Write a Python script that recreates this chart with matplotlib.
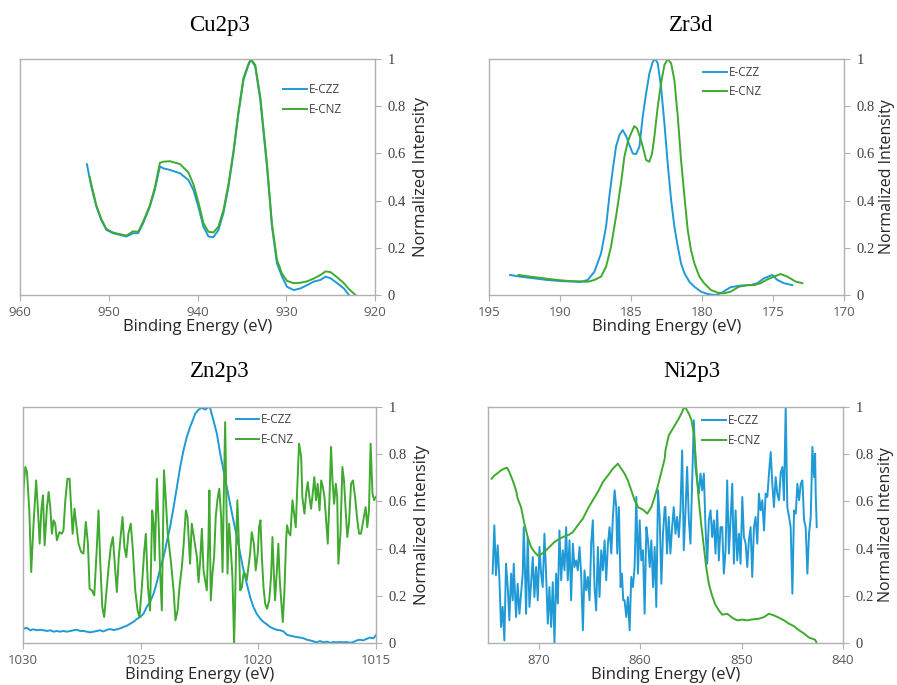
import matplotlib
matplotlib.use('Agg')
from matplotlib import pyplot as plt

plt.rcParams['font.family'] = ['Open Sans', 'DejaVu Sans']

BLUE = '#1f9ad6'
GREEN = '#3faa2f'
FRAME = '#b0b0b0'
SERIF = 'Liberation Serif'

series_names = ['E-CZZ', 'E-CNZ']

# Cu2p3
cu_ev_czz = [952.46, 951.97, 951.40, 950.84, 950.27, 949.52, 948.77, 948.01, 947.26, 946.69,
             946.13, 945.37, 944.81, 944.24, 943.86, 943.11, 941.98, 941.04, 940.47, 939.91,
             939.34, 938.77, 938.21, 937.64, 937.08, 936.51, 935.95, 935.38, 934.82, 934.25,
             933.99, 933.50, 932.93, 932.18, 931.61, 931.05, 930.48, 929.92, 929.16, 928.41,
             927.65, 926.90, 926.15, 925.58, 925.01, 924.26, 923.51, 922.94]
cu_czz = [0.554, 0.460, 0.375, 0.318, 0.276, 0.262, 0.255, 0.248, 0.262, 0.262,
          0.304, 0.375, 0.446, 0.545, 0.537, 0.530, 0.516, 0.488, 0.446, 0.375,
          0.290, 0.248, 0.245, 0.276, 0.347, 0.460, 0.601, 0.771, 0.912, 0.976,
          0.997, 0.969, 0.827, 0.545, 0.290, 0.134, 0.078, 0.035, 0.021, 0.028,
          0.042, 0.057, 0.064, 0.078, 0.071, 0.050, 0.028, 0.0]
cu_ev_cnz = [952.15, 951.97, 951.40, 950.84, 950.27, 949.52, 948.77, 948.01, 947.26, 946.69,
             946.13, 945.37, 944.81, 944.24, 943.86, 943.11, 941.98, 941.04, 940.47, 939.91,
             939.34, 938.77, 938.21, 937.64, 937.08, 936.51, 935.95, 935.38, 934.82, 934.25,
             933.99, 933.50, 932.93, 932.18, 931.61, 931.05, 930.48, 929.92, 929.16, 928.41,
             927.65, 926.90, 926.15, 925.58, 925.01, 924.26, 923.51, 922.94, 922.20]
cu_cnz = [0.500, 0.470, 0.380, 0.322, 0.280, 0.265, 0.258, 0.252, 0.270, 0.268,
          0.310, 0.380, 0.455, 0.560, 0.565, 0.567, 0.555, 0.520, 0.470, 0.395,
          0.305, 0.268, 0.265, 0.290, 0.360, 0.470, 0.610, 0.780, 0.920, 0.980,
          1.000, 0.975, 0.840, 0.560, 0.300, 0.150, 0.090, 0.060, 0.050, 0.052,
          0.058, 0.070, 0.085, 0.100, 0.097, 0.075, 0.050, 0.025, 0.0]

# Zr3d
zr_ev_czz = [193.52, 192.81, 191.87, 190.93, 189.99, 189.05, 188.58, 188.05, 187.58, 187.11,
             186.76, 186.53, 186.29, 186.06, 185.82, 185.59, 185.35, 185.12, 184.88, 184.65,
             184.41, 184.18, 183.94, 183.71, 183.47, 183.29, 183.12, 182.89, 182.65, 182.42,
             182.18, 181.95, 181.71, 181.48, 181.24, 180.89, 180.54, 180.07, 179.60, 179.02,
             178.70, 178.00, 177.29, 176.59, 176.11, 175.64, 175.06, 174.70, 174.23, 173.65]
zr_czz = [0.085, 0.078, 0.071, 0.064, 0.059, 0.057, 0.055, 0.064, 0.099, 0.177,
          0.290, 0.417, 0.530, 0.629, 0.678, 0.699, 0.674, 0.636, 0.600, 0.597,
          0.629, 0.756, 0.855, 0.939, 0.989, 1.000, 0.982, 0.883, 0.727, 0.558,
          0.403, 0.290, 0.205, 0.134, 0.092, 0.056, 0.035, 0.014, 0.004, 0.0,
          0.007, 0.033, 0.040, 0.042, 0.050, 0.071, 0.085, 0.064, 0.050, 0.042]
zr_ev_cnz = [192.93, 192.11, 191.17, 190.23, 189.29, 188.58, 188.05, 187.58, 187.11, 186.76,
             186.41, 186.06, 185.71, 185.47, 185.23, 185.00, 184.77, 184.58, 184.34, 184.11,
             183.94, 183.71, 183.52, 183.36, 183.12, 182.89, 182.65, 182.42, 182.18, 181.95,
             181.71, 181.48, 181.24, 181.01, 180.78, 180.54, 180.19, 179.84, 179.37, 178.90,
             178.47, 178.00, 177.41, 176.82, 176.35, 175.88, 175.41, 174.94, 174.47, 174.00,
             173.41, 172.94]
zr_cnz = [0.085, 0.078, 0.071, 0.064, 0.059, 0.058, 0.056, 0.064, 0.078, 0.120,
          0.205, 0.332, 0.473, 0.586, 0.650, 0.685, 0.716, 0.706, 0.664, 0.614,
          0.572, 0.565, 0.600, 0.671, 0.798, 0.897, 0.975, 1.000, 0.982, 0.911,
          0.756, 0.572, 0.417, 0.275, 0.191, 0.134, 0.078, 0.049, 0.021, 0.010,
          0.007, 0.014, 0.035, 0.042, 0.042, 0.050, 0.066, 0.078, 0.089, 0.078,
          0.057, 0.050]

# Zn2p3
zn_ev_czz = [1029.97, 1029.83, 1029.69, 1029.55, 1029.41, 1029.27, 1029.12, 1028.98, 1028.84, 1028.70,
             1028.56, 1028.42, 1028.28, 1028.13, 1027.99, 1027.85, 1027.71, 1027.57, 1027.43, 1027.28,
             1027.14, 1027.00, 1026.86, 1026.72, 1026.58, 1026.43, 1026.29, 1026.15, 1026.01, 1025.87,
             1025.73, 1025.59, 1025.44, 1025.30, 1025.16, 1025.02, 1024.88, 1024.74, 1024.60, 1024.45,
             1024.31, 1024.17, 1024.03, 1023.89, 1023.75, 1023.60, 1023.46, 1023.32, 1023.18, 1023.04,
             1022.90, 1022.76, 1022.68, 1022.54, 1022.40, 1022.26, 1022.12, 1022.05, 1021.91, 1021.76,
             1021.62, 1021.48, 1021.34, 1021.20, 1021.06, 1020.91, 1020.77, 1020.63, 1020.49, 1020.35,
             1020.21, 1020.07, 1019.92, 1019.78, 1019.64, 1019.50, 1019.36, 1019.22, 1019.07, 1018.93,
             1018.79, 1018.65, 1018.51, 1018.37, 1018.23, 1018.08, 1017.94, 1017.80, 1017.66, 1017.52,
             1017.38, 1017.23, 1017.09, 1016.95, 1016.81, 1016.67, 1016.53, 1016.39, 1016.24, 1016.10,
             1015.96, 1015.82, 1015.68, 1015.54, 1015.39, 1015.25, 1015.11, 1015.00]
zn_czz = [0.061, 0.064, 0.054, 0.058, 0.054, 0.056, 0.054, 0.051, 0.054, 0.048,
          0.051, 0.048, 0.051, 0.048, 0.051, 0.054, 0.056, 0.051, 0.051, 0.048,
          0.045, 0.048, 0.051, 0.054, 0.049, 0.056, 0.059, 0.055, 0.058, 0.062,
          0.068, 0.073, 0.082, 0.090, 0.102, 0.110, 0.124, 0.153, 0.174, 0.209,
          0.258, 0.315, 0.364, 0.428, 0.491, 0.576, 0.661, 0.746, 0.816, 0.873,
          0.915, 0.951, 0.972, 0.989, 0.997, 0.989, 1.000, 0.997, 0.944, 0.887,
          0.802, 0.732, 0.661, 0.590, 0.520, 0.449, 0.379, 0.308, 0.251, 0.195,
          0.153, 0.124, 0.103, 0.089, 0.079, 0.068, 0.061, 0.056, 0.054, 0.049,
          0.035, 0.031, 0.028, 0.025, 0.023, 0.020, 0.014, 0.011, 0.007, 0.003,
          0.008, 0.003, 0.006, 0.001, 0.004, 0.003, 0.004, 0.003, 0.004, 0.001,
          0.004, 0.011, 0.014, 0.011, 0.018, 0.023, 0.020, 0.034]
zn_ev_cnz = [1030.00, 1029.97, 1029.90, 1029.83, 1029.73, 1029.65, 1029.55, 1029.44, 1029.37, 1029.29,
             1029.22, 1029.15, 1029.08, 1028.98, 1028.91, 1028.84, 1028.77, 1028.70, 1028.63, 1028.56,
             1028.45, 1028.35, 1028.28, 1028.20, 1028.11, 1028.02, 1027.96, 1027.89, 1027.81, 1027.74,
             1027.64, 1027.53, 1027.43, 1027.33, 1027.24, 1027.17, 1027.07, 1026.97, 1026.86, 1026.79,
             1026.72, 1026.63, 1026.55, 1026.46, 1026.36, 1026.27, 1026.18, 1026.08, 1026.01, 1025.93,
             1025.84, 1025.77, 1025.69, 1025.61, 1025.52, 1025.42, 1025.33, 1025.23, 1025.13, 1025.05,
             1024.95, 1024.85, 1024.78, 1024.69, 1024.60, 1024.51, 1024.45, 1024.40, 1024.31, 1024.23,
             1024.17, 1024.10, 1024.01, 1023.93, 1023.85, 1023.72, 1023.60, 1023.52, 1023.43, 1023.35,
             1023.25, 1023.18, 1023.08, 1023.01, 1022.90, 1022.83, 1022.76, 1022.61, 1022.54, 1022.47,
             1022.40, 1022.33, 1022.26, 1022.19, 1022.12, 1022.08, 1022.02, 1021.95, 1021.88, 1021.81,
             1021.74, 1021.66, 1021.58, 1021.52, 1021.47, 1021.41, 1021.37, 1021.31, 1021.24, 1021.17,
             1021.10, 1021.03, 1020.99, 1020.93, 1020.89, 1020.83, 1020.77, 1020.70, 1020.63, 1020.56,
             1020.49, 1020.42, 1020.35, 1020.28, 1020.19, 1020.11, 1020.02, 1019.97, 1019.91, 1019.85,
             1019.78, 1019.71, 1019.63, 1019.54, 1019.46, 1019.40, 1019.34, 1019.29, 1019.22, 1019.15,
             1019.09, 1019.03, 1018.96, 1018.89, 1018.82, 1018.78, 1018.72, 1018.64, 1018.55, 1018.48,
             1018.41, 1018.34, 1018.27, 1018.18, 1018.13, 1018.04, 1017.97, 1017.90, 1017.83, 1017.76,
             1017.69, 1017.62, 1017.55, 1017.48, 1017.40, 1017.33, 1017.26, 1017.19, 1017.14, 1017.05,
             1016.98, 1016.91, 1016.85, 1016.78, 1016.71, 1016.65, 1016.60, 1016.51, 1016.43, 1016.36,
             1016.29, 1016.22, 1016.15, 1016.06, 1015.98, 1015.89, 1015.81, 1015.72, 1015.64, 1015.54,
             1015.44, 1015.37, 1015.30, 1015.23, 1015.15, 1015.08, 1015.01]
zn_cnz = [0.550, 0.661, 0.746, 0.725, 0.562, 0.301, 0.506, 0.689, 0.576, 0.421,
          0.562, 0.626, 0.414, 0.576, 0.640, 0.576, 0.463, 0.520, 0.506, 0.435,
          0.470, 0.463, 0.477, 0.605, 0.696, 0.696, 0.590, 0.463, 0.569, 0.506,
          0.421, 0.386, 0.379, 0.513, 0.421, 0.230, 0.223, 0.202, 0.407, 0.562,
          0.350, 0.153, 0.110, 0.209, 0.322, 0.407, 0.449, 0.308, 0.216, 0.364,
          0.463, 0.534, 0.407, 0.364, 0.463, 0.506, 0.393, 0.223, 0.138, 0.110,
          0.237, 0.386, 0.463, 0.237, 0.138, 0.562, 0.506, 0.350, 0.696, 0.491,
          0.294, 0.138, 0.732, 0.605, 0.463, 0.350, 0.223, 0.096, 0.138, 0.237,
          0.322, 0.407, 0.562, 0.534, 0.336, 0.506, 0.463, 0.364, 0.258, 0.350,
          0.484, 0.308, 0.266, 0.223, 0.435, 0.647, 0.181, 0.294, 0.364, 0.534,
          0.605, 0.654, 0.534, 0.301, 0.605, 0.936, 0.689, 0.294, 0.506, 0.400,
          0.280, 0.000, 0.153, 0.477, 0.605, 0.435, 0.223, 0.237, 0.294, 0.294,
          0.266, 0.322, 0.379, 0.470, 0.421, 0.308, 0.386, 0.491, 0.520, 0.364,
          0.237, 0.167, 0.145, 0.181, 0.280, 0.449, 0.294, 0.181, 0.294, 0.421,
          0.266, 0.181, 0.089, 0.223, 0.435, 0.499, 0.470, 0.456, 0.605, 0.548,
          0.491, 0.675, 0.845, 0.788, 0.619, 0.548, 0.633, 0.682, 0.619, 0.569,
          0.633, 0.703, 0.605, 0.675, 0.562, 0.689, 0.661, 0.619, 0.548, 0.421,
          0.605, 0.831, 0.689, 0.590, 0.675, 0.619, 0.336, 0.463, 0.746, 0.689,
          0.562, 0.449, 0.506, 0.675, 0.689, 0.619, 0.534, 0.463, 0.463, 0.520,
          0.576, 0.491, 0.562, 0.845, 0.633, 0.605, 0.619]

# Ni2p3
ni_ev_czz = [874.55, 874.38, 874.22, 874.05, 873.89, 873.72, 873.56, 873.39, 873.23, 873.06,
             872.90, 872.73, 872.57, 872.47, 872.34, 872.24, 872.08, 871.91, 871.75, 871.58,
             871.48, 871.35, 871.25, 871.09, 870.92, 870.76, 870.59, 870.43, 870.26, 870.10,
             869.93, 869.77, 869.61, 869.44, 869.28, 869.11, 868.95, 868.78, 868.62, 868.45,
             868.29, 868.12, 867.96, 867.79, 867.63, 867.46, 867.30, 867.14, 866.97, 866.81,
             866.64, 866.48, 866.31, 866.15, 865.98, 865.82, 865.65, 865.49, 865.32, 865.16,
             864.99, 864.83, 864.67, 864.50, 864.34, 864.17, 864.01, 863.84, 863.68, 863.51,
             863.35, 863.18, 863.02, 862.85, 862.69, 862.52, 862.36, 862.26, 862.10, 861.93,
             861.80, 861.67, 861.54, 861.37, 861.21, 861.04, 860.88, 860.71, 860.55, 860.38,
             860.22, 860.05, 859.89, 859.72, 859.56, 859.39, 859.23, 859.06, 858.90, 858.73,
             858.57, 858.41, 858.24, 858.08, 857.91, 857.75, 857.58, 857.51, 857.35, 857.18,
             857.02, 856.85, 856.69, 856.52, 856.36, 856.19, 856.03, 855.86, 855.70, 855.53,
             855.37, 855.20, 855.04, 854.88, 854.71, 854.55, 854.38, 854.22, 854.05, 853.89,
             853.72, 853.56, 853.39, 853.23, 853.06, 852.90, 852.73, 852.57, 852.41, 852.24,
             852.08, 851.91, 851.75, 851.58, 851.42, 851.25, 851.09, 850.92, 850.76, 850.59,
             850.43, 850.26, 850.10, 849.93, 849.77, 849.60, 849.44, 849.28, 849.11, 848.95,
             848.78, 848.62, 848.45, 848.29, 848.12, 847.96, 847.79, 847.63, 847.46, 847.30,
             847.13, 846.97, 846.81, 846.64, 846.48, 846.31, 846.15, 845.98, 845.82, 845.65,
             845.49, 845.32, 845.16, 844.99, 844.83, 844.66, 844.50, 844.33, 844.17, 844.00,
             843.84, 843.68, 843.51, 843.35, 843.18, 843.02, 842.85, 842.75, 842.69, 842.59]
ni_czz = [0.294, 0.499, 0.287, 0.414, 0.280, 0.068, 0.153, 0.011, 0.336, 0.237,
          0.096, 0.294, 0.181, 0.336, 0.209, 0.110, 0.251, 0.124, 0.209, 0.294,
          0.491, 0.294, 0.124, 0.449, 0.153, 0.251, 0.364, 0.195, 0.322, 0.181,
          0.407, 0.294, 0.237, 0.463, 0.294, 0.082, 0.237, 0.068, 0.258, 0.000,
          0.294, 0.167, 0.477, 0.266, 0.393, 0.308, 0.491, 0.266, 0.435, 0.181,
          0.421, 0.322, 0.350, 0.308, 0.407, 0.294, 0.054, 0.308, 0.223, 0.280,
          0.181, 0.421, 0.520, 0.237, 0.138, 0.407, 0.195, 0.393, 0.308, 0.435,
          0.266, 0.421, 0.491, 0.379, 0.534, 0.647, 0.576, 0.379, 0.576, 0.237,
          0.294, 0.181, 0.181, 0.110, 0.195, 0.054, 0.280, 0.237, 0.322, 0.619,
          0.294, 0.520, 0.350, 0.393, 0.124, 0.491, 0.435, 0.322, 0.435, 0.237,
          0.407, 0.153, 0.647, 0.534, 0.251, 0.463, 0.576, 0.576, 0.379, 0.534,
          0.379, 0.491, 0.576, 0.463, 0.534, 0.449, 0.562, 0.816, 0.393, 0.562,
          0.746, 0.520, 0.421, 0.675, 0.944, 0.746, 0.689, 0.633, 0.718, 0.647,
          0.718, 0.491, 0.336, 0.520, 0.562, 0.449, 0.520, 0.379, 0.562, 0.350,
          0.491, 0.491, 0.294, 0.393, 0.689, 0.379, 0.520, 0.675, 0.336, 0.562,
          0.350, 0.463, 0.336, 0.619, 0.449, 0.421, 0.322, 0.435, 0.491, 0.280,
          0.491, 0.534, 0.421, 0.633, 0.562, 0.605, 0.477, 0.633, 0.619, 0.718,
          0.809, 0.675, 0.576, 0.703, 0.633, 0.605, 0.718, 0.746, 0.605, 1.000,
          0.576, 0.534, 0.491, 0.209, 0.562, 0.548, 0.675, 0.605, 0.675, 0.689,
          0.520, 0.491, 0.294, 0.463, 0.534, 0.831, 0.703, 0.802, 0.633, 0.491]
ni_ev_cnz = [874.65, 874.38, 874.05, 873.72, 873.39, 873.13, 872.90, 872.57, 872.24, 872.08,
             871.75, 871.42, 871.09, 870.76, 870.43, 870.10, 869.77, 869.44, 868.95, 868.45,
             867.96, 867.46, 866.97, 866.64, 866.15, 865.65, 865.16, 864.67, 864.17, 863.68,
             863.18, 862.69, 862.20, 861.87, 861.54, 861.21, 860.88, 860.55, 860.22, 859.72,
             859.30, 858.90, 858.57, 858.24, 857.91, 857.58, 857.51, 857.18, 856.69, 856.19,
             855.86, 855.70, 855.47, 855.20, 854.94, 854.71, 854.55, 854.38, 854.22, 853.99,
             853.72, 853.49, 853.23, 852.97, 852.64, 852.24, 851.91, 851.42, 850.92, 850.43,
             849.93, 849.44, 848.95, 848.29, 847.79, 847.30, 846.81, 846.31, 845.82, 845.32,
             844.83, 844.33, 843.84, 843.35, 843.02, 842.75, 842.59]
ni_cnz = [0.696, 0.710, 0.720, 0.732, 0.739, 0.743, 0.725, 0.689, 0.647, 0.612,
          0.576, 0.506, 0.449, 0.407, 0.386, 0.371, 0.376, 0.386, 0.407, 0.428,
          0.442, 0.452, 0.460, 0.470, 0.499, 0.527, 0.569, 0.605, 0.640, 0.682,
          0.710, 0.739, 0.760, 0.739, 0.718, 0.689, 0.647, 0.605, 0.576, 0.565,
          0.548, 0.576, 0.619, 0.668, 0.725, 0.781, 0.816, 0.880, 0.915, 0.951,
          0.979, 0.997, 0.993, 0.972, 0.944, 0.887, 0.802, 0.689, 0.605, 0.506,
          0.407, 0.322, 0.251, 0.209, 0.167, 0.138, 0.120, 0.124, 0.107, 0.096,
          0.099, 0.096, 0.100, 0.103, 0.110, 0.124, 0.117, 0.107, 0.096, 0.082,
          0.071, 0.054, 0.040, 0.023, 0.018, 0.014, 0.0]

y_ticks = [0, 0.2, 0.4, 0.6, 0.8, 1]
y_tick_labels = ['0', '0.2', '0.4', '0.6', '0.8', '1']


def draw_panel(fig, rect, title, title_xy, czz, cnz, xlim, xticks, legend_xy,
               ylabel_pad=5, ylabel_size=12):
    ax = fig.add_axes(rect)
    ax.plot(czz[0], czz[1], color=BLUE, lw=1.4, label=series_names[0])
    ax.plot(cnz[0], cnz[1], color=GREEN, lw=1.4, label=series_names[1])

    ax.set_xlim(*xlim)
    ax.set_ylim(0, 1)
    ax.set_xticks(xticks)
    ax.set_xticklabels([str(t) for t in xticks])
    ax.set_yticks(y_ticks)
    ax.set_yticklabels(y_tick_labels, family=SERIF, fontsize=10.5, color='#404040')

    for side in ax.spines.values():
        side.set_color(FRAME)
        side.set_linewidth(1.0)
    ax.yaxis.tick_right()
    ax.yaxis.set_label_position('right')
    ax.tick_params(axis='y', direction='out', length=4, color=FRAME, pad=5)
    ax.tick_params(axis='x', direction='out', length=4, color=FRAME, pad=4,
                   labelsize=9.5, labelcolor='#595959')

    ax.set_xlabel('Binding Energy (eV)', fontsize=12, color='#262626', labelpad=0)
    ax.set_ylabel('Normalized Intensity', fontsize=ylabel_size, color='#262626',
                  labelpad=ylabel_pad)

    ax.legend(loc='center left', bbox_to_anchor=legend_xy, frameon=False,
              fontsize=8.5, handlelength=2.0, handletextpad=0.15,
              borderpad=0, borderaxespad=0, labelspacing=0.55,
              labelcolor='#404040')

    fig.text(title_xy[0], title_xy[1], title, family=SERIF, fontsize=16.5,
             ha='center', va='center', color='black')
    return ax


def main():
    fig = plt.figure(figsize=(8.97, 6.85), dpi=100)

    draw_panel(fig, [0.0223, 0.5693, 0.3958, 0.3445], 'Cu2p3', (0.245, 0.963),
               (cu_ev_czz, cu_czz), (cu_ev_cnz, cu_cnz),
               (960, 920), [960, 950, 940, 930, 920], (0.741, 0.829))
    draw_panel(fig, [0.5452, 0.5693, 0.3958, 0.3445], 'Zr3d', (0.771, 0.963),
               (zr_ev_czz, zr_czz), (zr_ev_cnz, zr_cnz),
               (195, 170), [195, 190, 185, 180, 175, 170], (0.603, 0.902),
               ylabel_pad=3, ylabel_size=11.5)
    draw_panel(fig, [0.0256, 0.0613, 0.3936, 0.3445], 'Zn2p3', (0.245, 0.457),
               (zn_ev_czz, zn_czz), (zn_ev_cnz, zn_cnz),
               (1030, 1015), [1030, 1025, 1020, 1015], (0.603, 0.904))
    draw_panel(fig, [0.5441, 0.0613, 0.3957, 0.3445], 'Ni2p3', (0.771, 0.457),
               (ni_ev_czz, ni_czz), (ni_ev_cnz, ni_cnz),
               (875, 840), [870, 860, 850, 840], (0.603, 0.901),
               ylabel_pad=3, ylabel_size=11.5)

    plt.savefig('out.png', dpi=100)


if __name__ == '__main__':
    main()
